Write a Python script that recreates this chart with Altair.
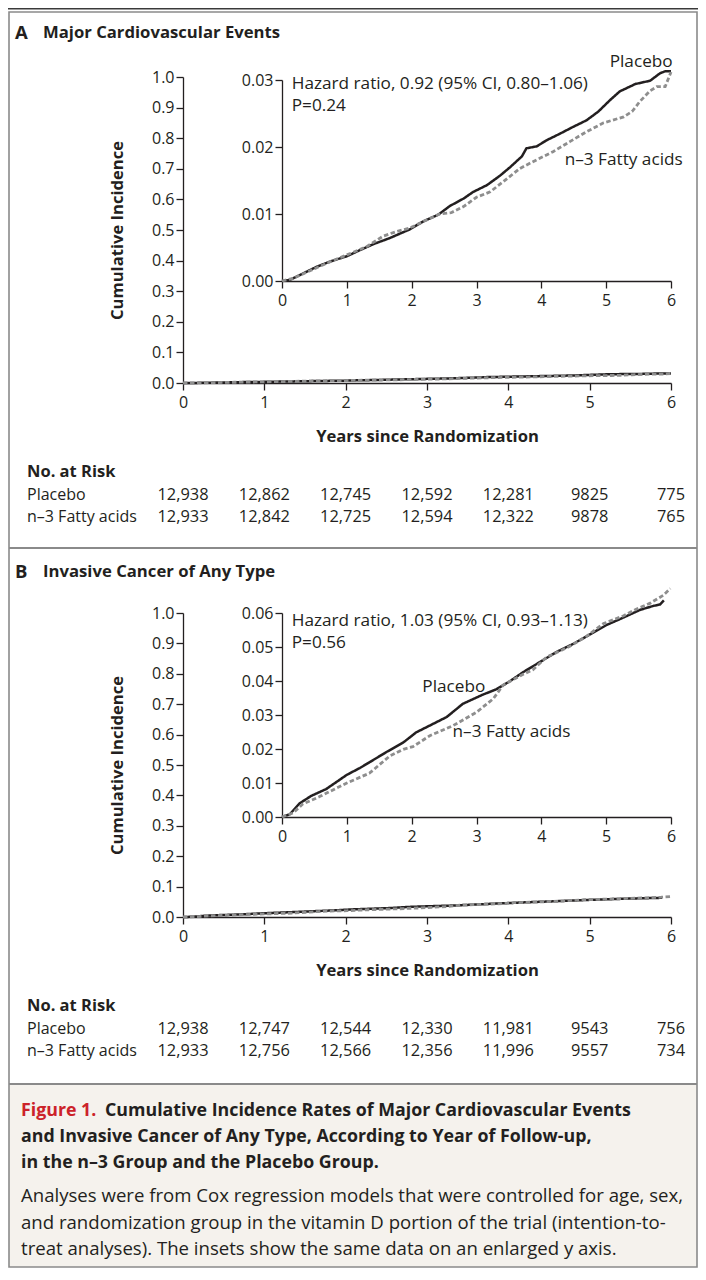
import altair as alt
import pandas as pd

W, H = 690, 1260
FONT = "Open Sans"
INK = "#231f20"

years = [0, 1, 2, 3, 4, 5, 6]
groups = ["Placebo", "n–3 Fatty acids"]
table_rows = ["No. at Risk", "Placebo", "n–3 Fatty acids"]

# ---- Panel A: Major cardiovascular events (cumulative incidence) ----
a_plac_t = [0, 0.12, 0.32, 0.53, 0.74, 1.0, 1.2, 1.41, 1.66, 1.97, 2.18, 2.41, 2.59, 2.8, 2.95, 3.16,
            3.36, 3.52, 3.7, 3.77, 3.93, 4.08, 4.29, 4.49, 4.7, 4.88, 5.06, 5.21, 5.45, 5.68, 5.83, 5.91, 6.0]
a_plac_v = [0, 0.00015, 0.0011, 0.0021, 0.0029, 0.0037, 0.0046, 0.0055, 0.0064, 0.0077, 0.0089, 0.0099,
            0.0112, 0.0123, 0.0133, 0.0143, 0.0157, 0.017, 0.0186, 0.0198, 0.0201, 0.021, 0.022, 0.023,
            0.024, 0.0253, 0.027, 0.0283, 0.0294, 0.0299, 0.031, 0.0313, 0.0313]
a_n3_t = [0, 0.17, 0.38, 0.63, 1.0, 1.3, 1.56, 1.77, 1.97, 2.23, 2.43, 2.61, 2.8, 3.0, 3.21, 3.41, 3.67,
          3.93, 4.18, 4.44, 4.7, 4.96, 5.27, 5.4, 5.52, 5.68, 5.78, 5.91, 6.0]
a_n3_v = [0, 0.0004, 0.0013, 0.0024, 0.0039, 0.0051, 0.0067, 0.0074, 0.0079, 0.0091, 0.01, 0.0102,
          0.0111, 0.0125, 0.0133, 0.0148, 0.0168, 0.0181, 0.0193, 0.0208, 0.0223, 0.0236, 0.0245,
          0.0253, 0.0268, 0.0284, 0.029, 0.029, 0.0312]

# ---- Panel B: Invasive cancer of any type ----
b_plac_t = [0, 0.12, 0.27, 0.45, 0.68, 1.0, 1.2, 1.35, 1.61, 1.87, 2.07, 2.28, 2.54, 2.79, 3.1, 3.31,
            3.52, 3.72, 3.98, 4.24, 4.49, 4.75, 5.01, 5.27, 5.52, 5.73, 5.83, 5.89]
b_plac_v = [0, 0.0008, 0.004, 0.0062, 0.0082, 0.0124, 0.0144, 0.0161, 0.0191, 0.0219, 0.0249, 0.0269,
            0.0294, 0.0333, 0.036, 0.0376, 0.04, 0.0426, 0.0456, 0.0486, 0.0509, 0.0537, 0.0565,
            0.0587, 0.0609, 0.0621, 0.0625, 0.0637]
b_n3_t = [0, 0.17, 0.32, 0.58, 1.0, 1.35, 1.66, 1.87, 2.02, 2.28, 2.64, 3.0, 3.26, 3.41, 3.72, 3.87,
          4.08, 4.44, 4.7, 4.96, 5.27, 5.47, 5.68, 5.88, 5.99]
b_n3_v = [0, 0.0012, 0.0038, 0.006, 0.01, 0.0129, 0.0179, 0.0199, 0.0207, 0.0239, 0.0269, 0.0308,
          0.0348, 0.0388, 0.042, 0.0433, 0.047, 0.0502, 0.0532, 0.0569, 0.0592, 0.0612, 0.0629,
          0.0652, 0.0672]

# ---- Numbers at risk ----
risk_a_placebo = ["12,938", "12,862", "12,745", "12,592", "12,281", "9825", "775"]
risk_a_n3 = ["12,933", "12,842", "12,725", "12,594", "12,322", "9878", "765"]
risk_b_placebo = ["12,938", "12,747", "12,544", "12,330", "11,981", "9543", "756"]
risk_b_n3 = ["12,933", "12,756", "12,566", "12,356", "11,996", "9557", "734"]

# ---- Inset annotations (positioned in inset data units) ----
ann_a_text = ["Hazard ratio, 0.92 (95% CI, 0.80–1.06)", "P=0.24", "Placebo", "n–3 Fatty acids"]
ann_a_t = [0.15, 0.15, 5.54, 5.27]
ann_a_v = [0.0294, 0.0261, 0.0327, 0.0181]
ann_a_align = ["left", "left", "center", "center"]
ann_b_text = ["Hazard ratio, 1.03 (95% CI, 0.93–1.13)", "P=0.56", "Placebo", "n–3 Fatty acids"]
ann_b_t = [0.15, 0.15, 2.65, 3.54]
ann_b_v = [0.0576, 0.0512, 0.0382, 0.025]
ann_b_align = ["left", "left", "center", "center"]

main_y_ticks = [0.0, 0.1, 0.2, 0.3, 0.4, 0.5, 0.6, 0.7, 0.8, 0.9, 1.0]
inset_a_ticks = [0.0, 0.01, 0.02, 0.03]
inset_b_ticks = [0.0, 0.01, 0.02, 0.03, 0.04, 0.05, 0.06]

caption_title = ["Cumulative Incidence Rates of Major Cardiovascular Events",
                 "and Invasive Cancer of Any Type, According to Year of Follow-up,",
                 "in the n–3 Group and the Placebo Group."]
caption_body = ["Analyses were from Cox regression models that were controlled for age, sex,",
                "and randomization group in the vitamin D portion of the trial (intention-to-",
                "treat analyses). The insets show the same data on an enlarged y axis."]

# ---------------- geometry (pixels inside the single canvas) ----------------
MAIN_X = [175, 663]
INSET_X = [274, 663]
A_MAIN_Y = [375, 69]
A_INSET_Y = [273, 72]
B_MAIN_Y = [909, 605]
B_INSET_Y = [809, 605]
A_TABLE_Y = [464, 509]
B_TABLE_Y = [998, 1043]

color_scale = alt.Scale(domain=groups, range=[INK, "#8e8e8e"])
dash_scale = alt.Scale(domain=groups, range=[[1, 0], [4.5, 2.5]])
width_scale = alt.Scale(domain=groups, range=[2.5, 2.8])
dummy = pd.DataFrame({"d": [0]})


def curve_df(tp, vp, tn, vn):
    return pd.DataFrame({
        "t": tp + tn,
        "v": vp + vn,
        "group": [groups[0]] * len(tp) + [groups[1]] * len(tn),
    })


def lines(df, xr, ydom, yr, xaxis, yaxis):
    return alt.Chart(df).mark_line().encode(
        x=alt.X("t:Q", scale=alt.Scale(domain=[0, 6], range=xr, nice=False, zero=False), axis=xaxis),
        y=alt.Y("v:Q", scale=alt.Scale(domain=ydom, range=yr, nice=False, zero=False), axis=yaxis),
        color=alt.Color("group:N", scale=color_scale, legend=None),
        strokeDash=alt.StrokeDash("group:N", scale=dash_scale, legend=None),
        strokeWidth=alt.StrokeWidth("group:N", scale=width_scale, legend=None),
    )


def x_axis(offset, title=None, title_y=53):
    kw = dict(orient="bottom", offset=offset, values=years, format="d", labelFlush=False,
              labelOverlap=False, tickSize=7, labelPadding=4)
    if title:
        kw.update(title=title, titleX=(MAIN_X[0] + MAIN_X[1]) / 2, titleY=title_y,
                  titleBaseline="middle", titleAlign="center")
        return alt.Axis(**kw)
    return alt.Axis(title=None, **kw)


def y_axis(offset, values, fmt, yr, title=None):
    kw = dict(orient="left", offset=offset, values=values, format=fmt, labelOverlap=False,
              labelFlush=False, tickSize=7, labelPadding=2)
    if title:
        kw.update(title=title, titleX=-66, titleY=(yr[0] + yr[1]) / 2, titleAngle=270,
                  titleBaseline="middle", titleAlign="center")
        return alt.Axis(**kw)
    return alt.Axis(title=None, **kw)


def annotations(texts, ts, vs, aligns, ydom, yr):
    df = pd.DataFrame({"t": ts, "v": vs, "label": texts})
    layers = []
    for al in ["left", "center"]:
        sub = df[[a == al for a in aligns]]
        layers.append(alt.Chart(sub).mark_text(font=FONT, fontSize=17.2, color=INK, align=al,
                                               baseline="middle").encode(
            x=alt.X("t:Q", scale=alt.Scale(domain=[0, 6], range=INSET_X, nice=False, zero=False), axis=None),
            y=alt.Y("v:Q", scale=alt.Scale(domain=ydom, range=yr, nice=False, zero=False), axis=None),
            text="label:N",
        ))
    return layers


def risk_table(pl, n3, yr):
    df = pd.DataFrame({"year": years * 2, "row": [groups[0]] * 7 + [groups[1]] * 7, "n": pl + n3})
    yscale = alt.Scale(domain=table_rows, range=yr, type="point", padding=0)
    nums = alt.Chart(df).mark_text(font=FONT, fontSize=16.4, color=INK, align="center",
                                   baseline="middle").encode(
        x=alt.X("year:Q", scale=alt.Scale(domain=[0, 6], range=MAIN_X, nice=False, zero=False), axis=None),
        y=alt.Y("row:N", scale=yscale, axis=None),
        text="n:N",
    )
    lab = pd.DataFrame({"row": groups})
    labels = alt.Chart(lab).mark_text(font=FONT, fontSize=16, color=INK, align="left",
                                      baseline="middle").encode(
        x=alt.value(19),
        y=alt.Y("row:N", scale=yscale, axis=None),
        text="row:N",
    )
    head = pd.DataFrame({"row": [table_rows[0]]})
    header = alt.Chart(head).mark_text(font=FONT, fontSize=16.5, fontWeight="bold", color=INK,
                                       align="left", baseline="middle").encode(
        x=alt.value(19),
        y=alt.Y("row:N", scale=yscale, axis=None),
        text="row:N",
    )
    return [nums, labels, header]


def static_text(text, x, y, size, weight="normal", color=INK):
    return alt.Chart(dummy).mark_text(text=text, font=FONT, fontSize=size, fontWeight=weight,
                                      color=color, align="left", baseline="middle").encode(
        x=alt.value(x), y=alt.value(y))


def hline(y, x1, x2, color, width):
    return alt.Chart(dummy).mark_rule(color=color, strokeWidth=width).encode(
        x=alt.value(x1), x2=alt.value(x2), y=alt.value(y))


layers = []
# decoration: caption background, frame, separators
layers.append(alt.Chart(dummy).mark_rect(fill="#f5f2ed").encode(
    x=alt.value(1), x2=alt.value(689), y=alt.value(1076), y2=alt.value(1259)))
layers.append(alt.Chart(dummy).mark_rect(fill=None, stroke="#8a8a8a", strokeWidth=1.6).encode(
    x=alt.value(1), x2=alt.value(689), y=alt.value(4), y2=alt.value(1259)))
layers.append(hline(0.8, 0, 690, "#3a3a3a", 1.6))
layers.append(hline(540, 1, 689, "#8a8a8a", 2))
layers.append(hline(1076, 1, 689, "#8a8a8a", 2))

# Panel titles
layers.append(static_text("A", 7, 25, 18.5, "bold"))
layers.append(static_text("Major Cardiovascular Events", 35, 25, 16.7, "bold"))
layers.append(static_text("B", 7, 564, 18.5, "bold"))
layers.append(static_text("Invasive Cancer of Any Type", 35, 564, 16.7, "bold"))

dfa = curve_df(a_plac_t, a_plac_v, a_n3_t, a_n3_v)
dfb = curve_df(b_plac_t, b_plac_v, b_n3_t, b_n3_v)

# Panel A main + inset
layers.append(lines(dfa, MAIN_X, [0, 1], A_MAIN_Y,
                    x_axis(A_MAIN_Y[0] - H, "Years since Randomization"),
                    y_axis(-MAIN_X[0], main_y_ticks, ".1f", A_MAIN_Y, "Cumulative Incidence")))
layers.append(lines(dfa, INSET_X, [0, 0.03], A_INSET_Y,
                    x_axis(A_INSET_Y[0] - H),
                    y_axis(-INSET_X[0], inset_a_ticks, ".2f", A_INSET_Y)))
layers += annotations(ann_a_text, ann_a_t, ann_a_v, ann_a_align, [0, 0.03], A_INSET_Y)
layers += risk_table(risk_a_placebo, risk_a_n3, A_TABLE_Y)

# Panel B main + inset
layers.append(lines(dfb, MAIN_X, [0, 1], B_MAIN_Y,
                    x_axis(B_MAIN_Y[0] - H, "Years since Randomization"),
                    y_axis(-MAIN_X[0], main_y_ticks, ".1f", B_MAIN_Y, "Cumulative Incidence")))
layers.append(lines(dfb, INSET_X, [0, 0.06], B_INSET_Y,
                    x_axis(B_INSET_Y[0] - H),
                    y_axis(-INSET_X[0], inset_b_ticks, ".2f", B_INSET_Y)))
layers += annotations(ann_b_text, ann_b_t, ann_b_v, ann_b_align, [0, 0.06], B_INSET_Y)
layers += risk_table(risk_b_placebo, risk_b_n3, B_TABLE_Y)

# Caption
layers.append(static_text("Figure 1.", 13, 1103, 17.8, "bold", "#cc2229"))
layers.append(static_text(caption_title[0], 97, 1103, 17.8, "bold"))
layers.append(static_text(caption_title[1], 13, 1129, 17.8, "bold"))
layers.append(static_text(caption_title[2], 13, 1155, 17.8, "bold"))
layers.append(static_text(caption_body[0], 13, 1188, 18.6))
layers.append(static_text(caption_body[1], 13, 1215, 18.6))
layers.append(static_text(caption_body[2], 13, 1241, 18.6))

chart = alt.layer(*layers).resolve_scale(
    x="independent", y="independent"
).properties(
    width=W, height=H, padding=0, autosize=alt.AutoSizeParams(type="none"), background="white"
).configure_view(stroke=None).configure_axis(
    grid=False, domainColor=INK, tickColor=INK, domainWidth=1.3, tickWidth=1.3,
    labelFont=FONT, labelFontSize=16, labelColor=INK,
    titleFont=FONT, titleFontSize=16.6, titleFontWeight="bold", titleColor=INK,
)

chart.save("out.html", embed_options={"renderer": "svg", "actions": False})
